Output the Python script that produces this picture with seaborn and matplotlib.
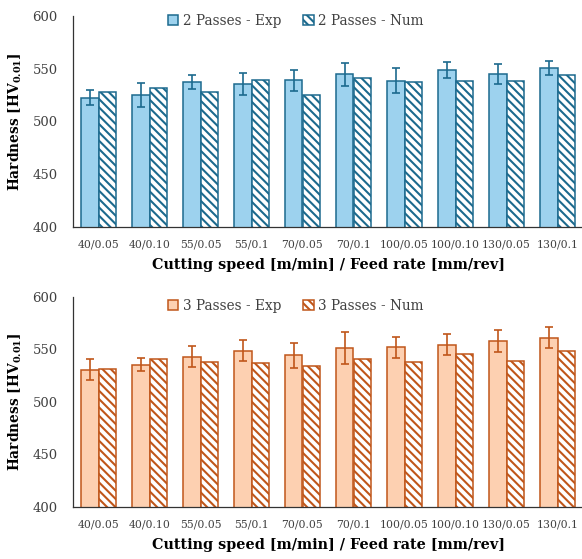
import numpy as np
import pandas as pd
import matplotlib
matplotlib.use("Agg")
import matplotlib.pyplot as plt
import matplotlib.patches as mpatches
import seaborn as sns

conditions = ["40/0.05", "40/0.10", "55/0.05", "55/0.1", "70/0.05",
              "70/0.1", "100/0.05", "100/0.10", "130/0.05", "130/0.1"]

exp_2p = [522.6, 525.1, 537.4, 535.2, 539.0, 544.7, 538.7, 548.8, 545.3, 551.0]
err_2p = [7.0, 11.0, 7.0, 10.5, 10.0, 11.0, 12.0, 7.5, 9.5, 6.5]
num_2p = [528.3, 532.1, 527.6, 539.3, 525.1, 540.9, 537.1, 538.7, 538.7, 544.4]

exp_3p = [530.9, 535.7, 542.9, 549.0, 544.5, 551.5, 552.1, 554.3, 558.1, 561.2]
err_3p = [10.0, 6.0, 10.0, 10.0, 12.0, 15.5, 10.0, 10.0, 10.5, 10.0]
num_3p = [531.5, 540.7, 538.2, 537.6, 534.4, 541.4, 537.9, 545.3, 539.4, 549.0]

sns.set_theme(style="white")
plt.rcParams["font.family"] = ["DejaVu Serif"]
plt.rcParams["mathtext.fontset"] = "dejavuserif"
plt.rcParams["hatch.linewidth"] = 1.5

W, H = 582, 559
fig = plt.figure(figsize=(W / 100, H / 100), dpi=100)

panels = [
    dict(rect=[73 / W, 1 - 227 / H, 510 / W, 211 / H], exp=exp_2p, err=err_2p,
         num=num_2p, label="2 Passes", fill="#9DD2EE", edge="#1C6A8E", leg_y=1 - 4 / H),
    dict(rect=[73 / W, 1 - 507 / H, 510 / W, 210 / H], exp=exp_3p, err=err_3p,
         num=num_3p, label="3 Passes", fill="#FDD0B1", edge="#C0561A", leg_y=1 - 289 / H),
]

text_col = "#404040"
hatch = "\\\\\\\\"

for p in panels:
    ax = fig.add_axes(p["rect"])
    exp_name = f"{p['label']} - Exp"
    num_name = f"{p['label']} - Num"
    df = pd.DataFrame({
        "cond": conditions * 2,
        "hardness": p["exp"] + p["num"],
        "series": [exp_name] * len(conditions) + [num_name] * len(conditions),
    })
    sns.barplot(data=df, x="cond", y="hardness", hue="series",
                palette=[p["fill"], "white"], saturation=1, errorbar=None,
                width=0.68, edgecolor=p["edge"], linewidth=1.1, ax=ax, zorder=2)
    for bar in ax.containers[1]:
        bar.set_hatch(hatch)
        bar.set_edgecolor(p["edge"])
    xs = [b.get_x() + b.get_width() / 2 for b in ax.containers[0]]
    ax.errorbar(xs, p["exp"], yerr=p["err"], fmt="none", ecolor=p["edge"],
                elinewidth=1.2, capsize=2.6, capthick=1.2, zorder=3)

    ax.set_ylim(400, 600)
    ax.set_yticks([400, 450, 500, 550, 600])
    ax.set_xlim(-0.5, 9.5)
    for s in ["top", "right"]:
        ax.spines[s].set_visible(False)
    for s in ["left", "bottom"]:
        ax.spines[s].set_color("#333333")
        ax.spines[s].set_linewidth(0.9)
    ax.tick_params(axis="y", length=0, pad=11, labelsize=9.5, labelcolor=text_col)
    ax.tick_params(axis="x", length=0, pad=9, labelsize=7.8, labelcolor=text_col)
    ax.set_xlabel("Cutting speed [m/min] / Feed rate [mm/rev]", fontsize=10.4,
                  fontweight="bold", color="black", labelpad=6)
    ax.set_ylabel(r"Hardness [HV$_{\mathbf{0.01}}$]", fontsize=9.9,
                  fontweight="bold", color="black", labelpad=6)

    if ax.get_legend() is not None:
        ax.get_legend().remove()
    handles = [
        mpatches.Patch(facecolor=p["fill"], edgecolor=p["edge"], linewidth=1.1,
                       label=exp_name),
        mpatches.Patch(facecolor="white", edgecolor=p["edge"], linewidth=1.1,
                       hatch=hatch, label=num_name),
    ]
    fig.legend(handles=handles, loc="upper center", ncol=2, frameon=False,
               bbox_to_anchor=(296 / W, p["leg_y"]), fontsize=9.8,
               handlelength=0.75, handleheight=0.75, handletextpad=0.35,
               columnspacing=1.6, borderpad=0.2, labelcolor=text_col)

fig.savefig("out.png", dpi=100)
